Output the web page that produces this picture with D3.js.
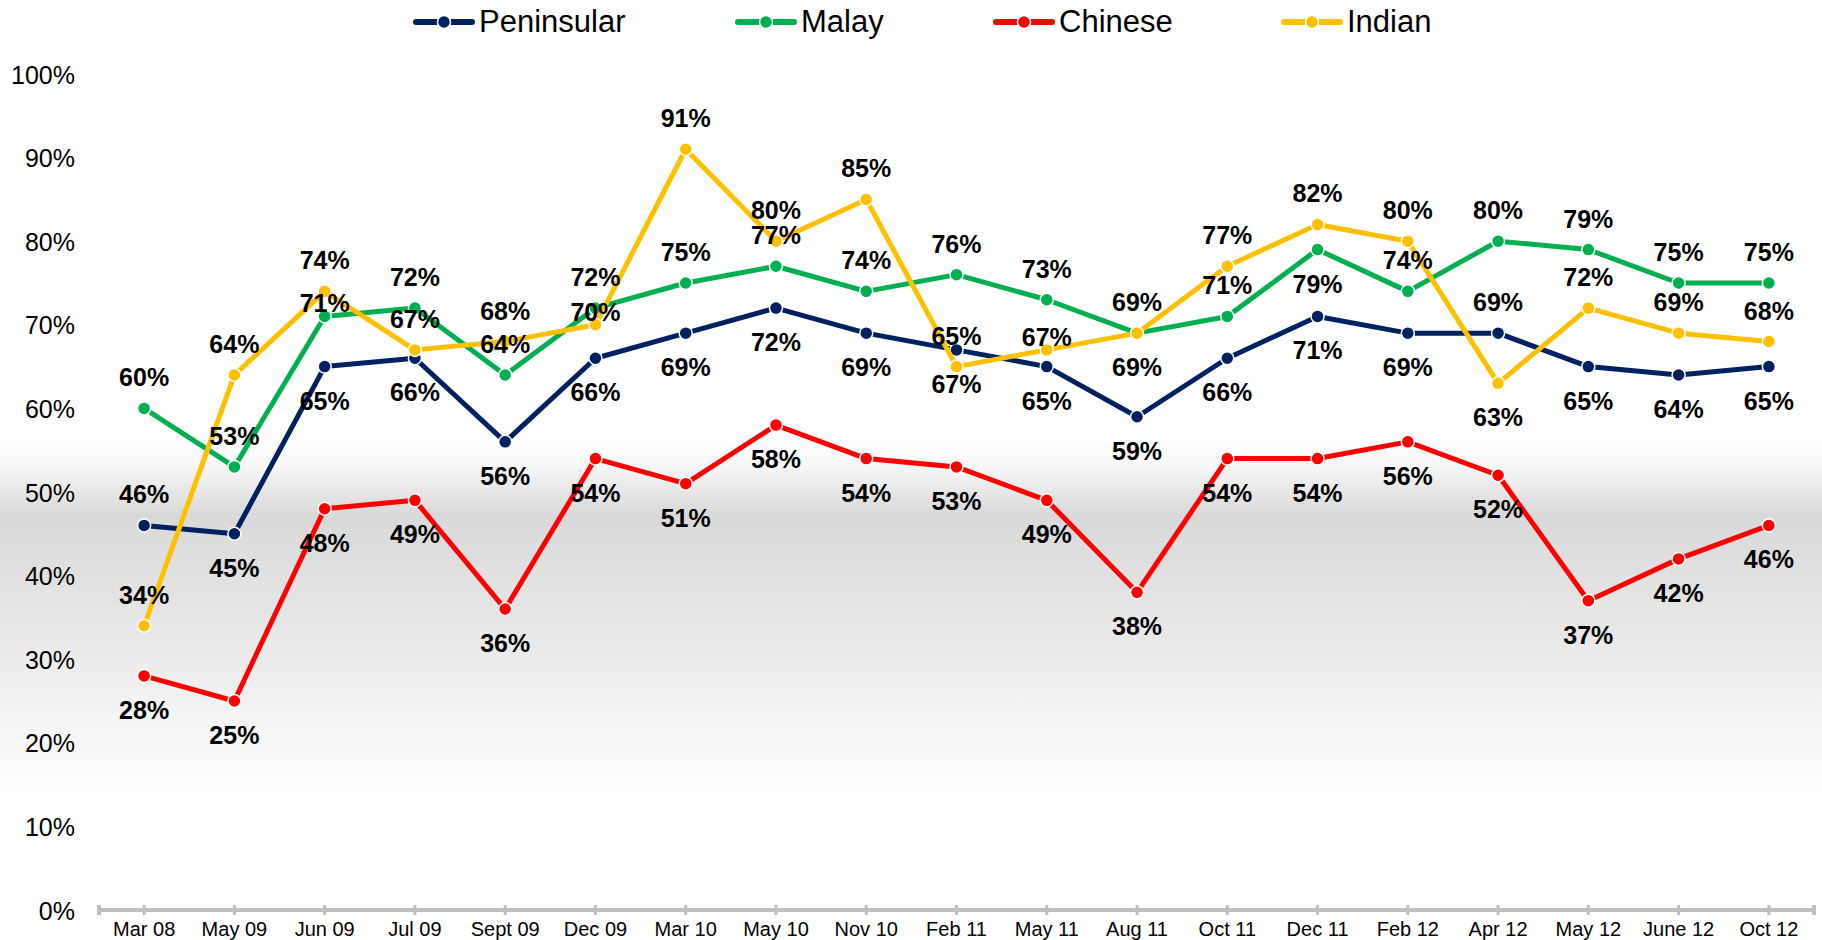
<!DOCTYPE html>
<html>
<head>
<meta charset="utf-8">
<script src="https://cdn.jsdelivr.net/npm/d3@7"></script>
<style>
  body { margin: 0; background: #fff; }
  svg { display: block; font-family: "Liberation Sans", Arial, sans-serif; }
</style>
</head>
<body>
<div id="chart"></div>
<script>
// survey rounds
var categories = ["Mar 08", "May 09", "Jun 09", "Jul 09", "Sept 09", "Dec 09", "Mar 10", "May 10", "Nov 10",
    "Feb 11", "May 11", "Aug 11", "Oct 11", "Dec 11", "Feb 12", "Apr 12", "May 12", "June 12", "Oct 12"];

var peninsular = [46, 45, 65, 66, 56, 66, 69, 72, 69, 67, 65, 59, 66, 71, 69, 69, 65, 64, 65];
var malay      = [60, 53, 71, 72, 64, 72, 75, 77, 74, 76, 73, 69, 71, 79, 74, 80, 79, 75, 75];
var chinese    = [28, 25, 48, 49, 36, 54, 51, 58, 54, 53, 49, 38, 54, 54, 56, 52, 37, 42, 46];
var indian     = [34, 64, 74, 67, 68, 70, 91, 80, 85, 65, 67, 69, 77, 82, 80, 63, 72, 69, 68];

var yTicks = [0, 0.1, 0.2, 0.3, 0.4, 0.5, 0.6, 0.7, 0.8, 0.9, 1];

// where each value label goes: a = above the point, b = below, n = just above (squeezed)
var labelPos = {
    Peninsular: "abbbbbbbbbbbbbbabbb",
    Malay:      "aanaaaaaaaaaabaaaaa",
    Chinese:    "bbbbbbbbbbbbbbbbbbb",
    Indian:     "aaaaanaaaanbaaabaaa"
};
var labelShift = { a: -22, n: -4, b: 43 };

var series = [
    { name: "Peninsular", values: peninsular, color: "#002060" },
    { name: "Malay", values: malay, color: "#00b050" },
    { name: "Chinese", values: chinese, color: "#ff0000" },
    { name: "Indian", values: indian, color: "#ffc000" }
];

var width = 1822, height = 940;

var svg = d3.select("#chart").append("svg")
    .attr("width", width)
    .attr("height", height);

// soft grey band behind the middle of the plot
var defs = svg.append("defs");
var grad = defs.append("linearGradient")
    .attr("id", "band")
    .attr("x1", 0).attr("y1", 0).attr("x2", 0).attr("y2", 1);
grad.append("stop").attr("offset", "0%").attr("stop-color", "#ffffff");
grad.append("stop").attr("offset", "8%").attr("stop-color", "#f8f8f8");
grad.append("stop").attr("offset", "22%").attr("stop-color", "#d9d9d9");
grad.append("stop").attr("offset", "55%").attr("stop-color", "#e8e8e8");
grad.append("stop").attr("offset", "85%").attr("stop-color", "#f7f7f7");
grad.append("stop").attr("offset", "100%").attr("stop-color", "#ffffff");

svg.append("rect")
    .attr("x", 0).attr("y", 435)
    .attr("width", width).attr("height", 360)
    .attr("fill", "url(#band)");

var x = d3.scaleBand()
    .domain(categories)
    .range([99, 1814])
    .paddingInner(0).paddingOuter(0);

var cx = function(c) { return x(c) + x.bandwidth() / 2; };

var y = d3.scaleLinear()
    .domain([0, 1])
    .range([910, 74]);

// y axis labels only
var yAxis = d3.axisLeft(y)
    .tickValues(yTicks)
    .tickFormat(d3.format(".0%"))
    .tickSize(0)
    .tickPadding(0);

var yG = svg.append("g")
    .attr("transform", "translate(75,0)")
    .call(yAxis);
yG.select(".domain").remove();
yG.selectAll("text")
    .attr("font-size", 25)
    .attr("font-family", "Liberation Sans, Arial, sans-serif")
    .attr("fill", "#000")
    .attr("dy", "0.36em");

// x axis
var xAxis = d3.axisBottom(x)
    .tickSizeInner(6)
    .tickSizeOuter(6);

var xG = svg.append("g")
    .attr("transform", "translate(0,910)")
    .call(xAxis);
xG.select(".domain")
    .attr("stroke", "#bfbfbf")
    .attr("stroke-width", 4)
    .attr("d", "M99,-5V5M99,0H1814M1814,-5V5");
xG.selectAll(".tick line")
    .attr("stroke", "#bfbfbf")
    .attr("stroke-width", 3)
    .attr("y1", -5)
    .attr("y2", 5);
xG.selectAll("text")
    .attr("font-size", 20)
    .attr("font-family", "Liberation Sans, Arial, sans-serif")
    .attr("fill", "#000")
    .attr("y", 26)
    .attr("dy", 0);

var line = d3.line()
    .x(function(d, i) { return cx(categories[i]); })
    .y(function(d) { return y(d / 100); });

var plot = svg.append("g");

series.forEach(function(s) {
    plot.append("path")
        .datum(s.values)
        .attr("fill", "none")
        .attr("stroke", s.color)
        .attr("stroke-width", 5)
        .attr("stroke-linejoin", "round")
        .attr("d", line);

    plot.selectAll(null)
        .data(s.values)
        .enter().append("circle")
        .attr("cx", function(d, i) { return cx(categories[i]); })
        .attr("cy", function(d) { return y(d / 100); })
        .attr("r", 6.5)
        .attr("fill", s.color)
        .attr("stroke", "#fff")
        .attr("stroke-width", 1.5);
});

// value labels on top of everything
series.forEach(function(s) {
    var pos = labelPos[s.name];
    svg.append("g").selectAll("text")
        .data(s.values)
        .enter().append("text")
        .attr("x", function(d, i) { return cx(categories[i]); })
        .attr("y", function(d, i) { return y(d / 100) + labelShift[pos[i]]; })
        .attr("text-anchor", "middle")
        .attr("font-size", 25)
        .attr("font-weight", "bold")
        .attr("fill", "#000")
        .text(function(d) { return d + "%"; });
});

// legend
var legendX = [416, 738, 996, 1284];
var legend = svg.append("g");
series.forEach(function(s, i) {
    var g = legend.append("g").attr("transform", "translate(" + legendX[i] + ",22)");
    g.append("line")
        .attr("x1", 0).attr("x2", 56)
        .attr("stroke", s.color)
        .attr("stroke-width", 6)
        .attr("stroke-linecap", "round");
    g.append("circle")
        .attr("cx", 28).attr("r", 6.5)
        .attr("fill", s.color)
        .attr("stroke", "#fff")
        .attr("stroke-width", 1.5);
    g.append("text")
        .attr("x", 63).attr("y", 10)
        .attr("font-size", 31)
        .attr("fill", "#000")
        .text(s.name);
});
</script>
</body>
</html>
